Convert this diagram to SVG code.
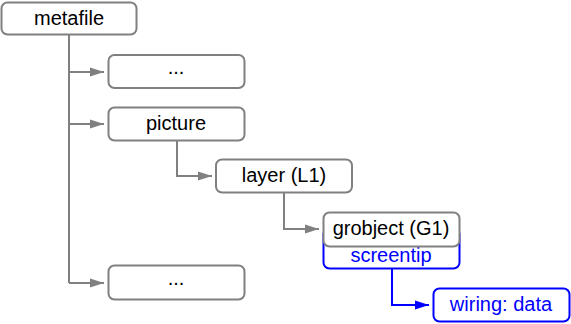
<svg xmlns="http://www.w3.org/2000/svg" width="571" height="324" viewBox="0 0 571 324">
<defs>
<style>
.n{fill:#fff;stroke:#808080;stroke-width:2}
.b{fill:#fff;stroke:#0000ff;stroke-width:2}
.t{font-family:"Liberation Sans",Arial,sans-serif;font-size:20px;text-anchor:middle;fill:#000}
.tb{font-family:"Liberation Sans",Arial,sans-serif;font-size:20px;text-anchor:middle;fill:#0000ff}
.c{fill:none;stroke:#808080;stroke-width:2}
.cb{fill:none;stroke:#0000ff;stroke-width:2}
</style>
<marker id="ag" markerWidth="14" markerHeight="10" refX="14" refY="5" orient="auto" markerUnits="userSpaceOnUse"><path d="M0,0.5 L14,5 L0,9.5 Z" fill="#808080"/></marker>
<marker id="ab" markerWidth="14" markerHeight="10" refX="14" refY="5" orient="auto" markerUnits="userSpaceOnUse"><path d="M0,0.5 L14,5 L0,9.5 Z" fill="#0000ff"/></marker>
</defs>
<g id="connectors">
<path class="c" d="M69,35 V283"/>
<path class="c" d="M69,72 H104" marker-end="url(#ag)"/>
<path class="c" d="M69,124 H104" marker-end="url(#ag)"/>
<path class="c" d="M69,283 H104" marker-end="url(#ag)"/>
<path class="c" d="M177,141 V176 H212" marker-end="url(#ag)"/>
<path class="c" d="M284,193 V229 H319" marker-end="url(#ag)"/>
<path class="cb" d="M392,269 V305 H429" marker-end="url(#ab)"/>
</g>
<g id="metafile"><rect class="n" x="1.5" y="2.5" width="135" height="32" rx="6"/><text class="t" x="69" y="25">metafile</text></g>
<g id="dots1"><rect class="n" x="108.5" y="55" width="136" height="33" rx="6"/><text class="t" x="176" y="74">...</text></g>
<g id="picture"><rect class="n" x="108.5" y="107.5" width="136" height="33" rx="6"/><text class="t" x="176" y="130">picture</text></g>
<g id="layer"><rect class="n" x="216" y="159.5" width="136" height="33" rx="6"/><text class="t" x="284" y="182">layer (L1)</text></g>
<g id="screentip"><rect class="b" x="323.5" y="228" width="136" height="40.5" rx="6"/><text class="tb" x="391" y="262">screentip</text></g>
<g id="grobject"><rect class="n" x="323.5" y="212.5" width="136" height="34" rx="6"/><text class="t" x="391" y="235">grobject (G1)</text></g>
<g id="wiring"><rect class="b" x="433.5" y="288.5" width="136" height="33" rx="6"/><text class="tb" x="501" y="311">wiring: data</text></g>
<g id="dots2"><rect class="n" x="108.5" y="265.5" width="136" height="34" rx="6"/><text class="t" x="176" y="285">...</text></g>
</svg>
